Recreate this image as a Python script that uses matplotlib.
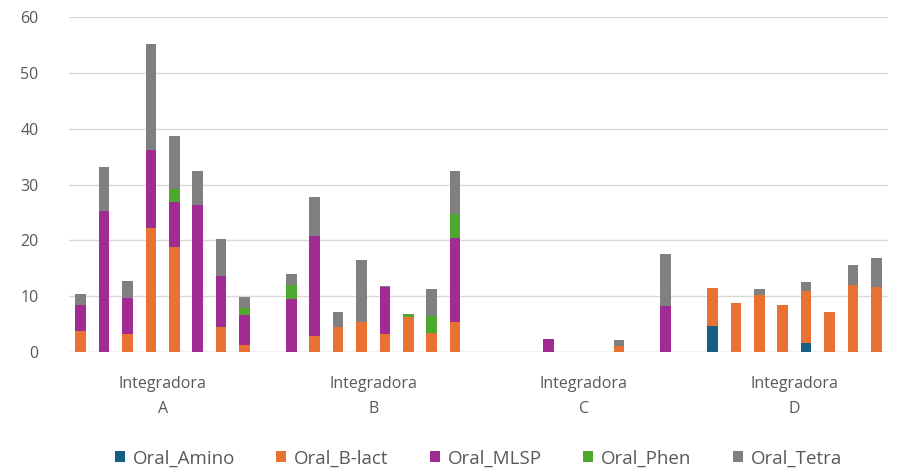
import numpy as np
import matplotlib.pyplot as plt
from matplotlib.transforms import blended_transform_factory

# values, 8 bars per group (A, B, C, D)
groups = ["A", "B", "C", "D"]
series = ["Oral_Amino", "Oral_B-lact", "Oral_MLSP", "Oral_Phen", "Oral_Tetra"]
colors = ["#156082", "#E97132", "#A02B93", "#4EA72E", "#808080"]

oral_amino = [0, 0, 0, 0, 0, 0, 0, 0,
              0, 0, 0, 0, 0, 0, 0, 0,
              0, 0, 0, 0, 0, 0, 0, 0,
              4.7, 0, 0, 0, 1.7, 0, 0, 0]
oral_blact = [3.8, 0, 3.2, 22.2, 18.8, 0, 4.5, 1.3,
              0, 2.9, 4.4, 5.3, 3.2, 6.2, 3.4, 5.3,
              0, 0, 0, 0, 0, 1.0, 0, 0,
              6.8, 8.8, 10.2, 8.5, 9.3, 7.2, 12.0, 11.7]
oral_mlsp = [4.6, 25.3, 6.4, 13.9, 8.0, 26.3, 9.2, 5.3,
             9.5, 17.9, 0, 0, 8.4, 0, 0, 15.1,
             0, 0, 2.3, 0, 0, 0, 0, 8.3,
             0, 0, 0, 0, 0, 0, 0, 0]
oral_phen = [0, 0, 0, 0, 2.4, 0, 0, 1.2,
             2.5, 0, 0, 0, 0, 0.7, 3.1, 4.4,
             0, 0, 0, 0, 0, 0, 0, 0,
             0, 0, 0, 0, 0, 0, 0, 0]
oral_tetra = [2.0, 7.8, 3.2, 19.0, 9.5, 6.2, 6.5, 2.1,
              1.9, 6.9, 2.8, 11.1, 0.3, 0, 4.7, 7.7,
              0, 0, 0, 0, 0, 1.2, 0, 9.3,
              0, 0, 1.0, 0, 1.6, 0, 3.5, 5.2]

data = [oral_amino, oral_blact, oral_mlsp, oral_phen, oral_tetra]

plt.rcParams["font.family"] = ["Open Sans", "DejaVu Sans"]

fig = plt.figure(figsize=(9.24, 4.70), dpi=100)
ax = fig.add_axes([0.0747, 0.251, 0.8863, 0.7128])

# one empty slot between groups
n = 8
x = np.array([g * (n + 1) + i for g in range(len(groups)) for i in range(n)])

bottom = np.zeros(len(x))
for name, vals, c in zip(series, data, colors):
    vals = np.array(vals)
    ax.bar(x, vals, width=0.45, bottom=bottom, color=c, label=name, zorder=3)
    bottom += vals

ax.set_xlim(-0.5, len(groups) * (n + 1) - 1.5)
ax.set_ylim(0, 60)
ax.set_yticks(range(0, 61, 10))
ax.set_xticks([])
ax.grid(axis="y", color="#D9D9D9", linewidth=1, zorder=0)
for s in ["top", "right", "left", "bottom"]:
    ax.spines[s].set_visible(False)
ax.axhline(0, color="#D9D9D9", linewidth=1, zorder=1)
ax.tick_params(axis="y", length=0, labelsize=11.5, labelcolor="#595959", pad=22)

trans = blended_transform_factory(ax.transData, ax.transAxes)
for g, lab in enumerate(groups):
    cx = g * (n + 1) + (n - 1) / 2
    ax.text(cx, -0.095, "Integradora", transform=trans, ha="center", va="center",
            fontsize=11.5, color="#595959")
    ax.text(cx, -0.17, lab, transform=trans, ha="center", va="center",
            fontsize=11.5, color="#595959")

ax.legend(loc="center", bbox_to_anchor=(0.5, -0.318), ncol=5, frameon=False,
          fontsize=13.5, labelcolor="#595959", handlelength=0.53, handleheight=0.53,
          handletextpad=0.43, columnspacing=2.2)

fig.savefig("out.png", dpi=100)
